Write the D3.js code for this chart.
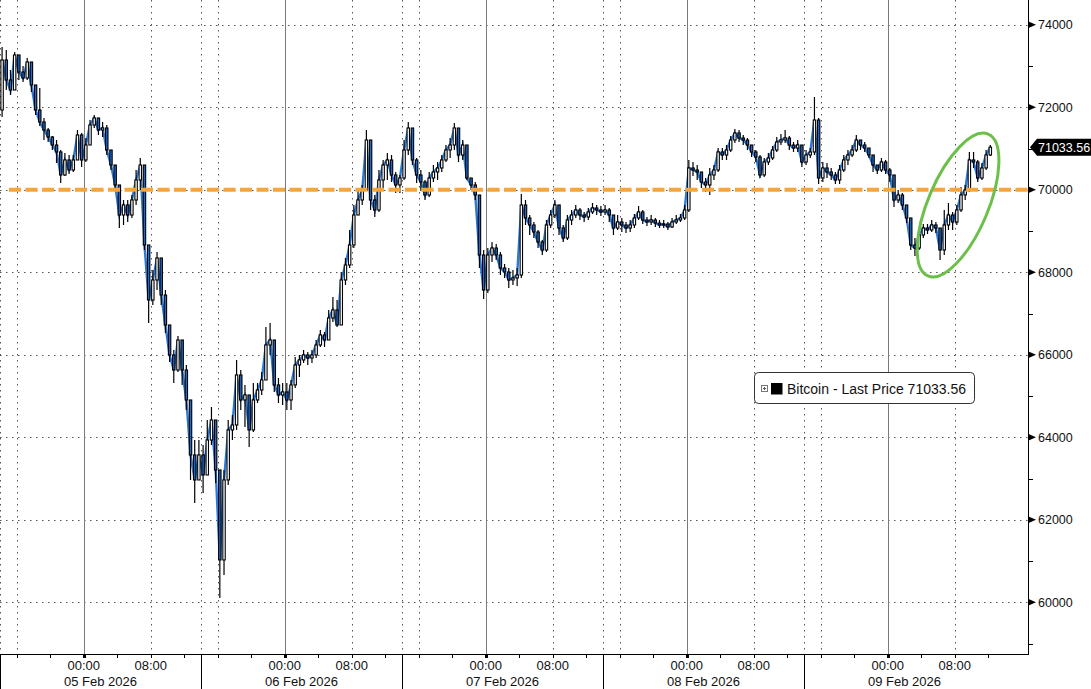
<!DOCTYPE html>
<html><head><meta charset="utf-8">
<script src="https://cdn.jsdelivr.net/npm/d3@7"></script>
<style>body{margin:0;background:#fff}svg{display:block}</style>
</head><body>
<svg id="c" width="1091" height="689"></svg>
<script>
// ---------------- data ----------------
const seriesName = "Bitcoin - Last Price";
const lastPrice = 71033.56;
const refLevel = 70000;
const barStart = Date.UTC(2026, 1, 4, 14, 0);   // first 30-min bar
const barMinutes = 30;
const firstOpen = 71935;
const closes = [
73147,72662,72419,73268,72856,72710,73098,72541,71935,71644,
71450,71280,71086,70917,70359,70723,70480,70723,71329,70723,
71086,71571,71741,71450,71498,70965,70601,70117,69389,69632,
69389,69753,70238,70601,68662,67329,67814,68347,67450,66723,
65996,65632,66359,65632,64905,63572,62966,63572,63087,63935,
64420,63208,61027,62966,64178,64299,65511,64905,65026,64178,
64905,65147,65390,66238,66359,65269,65026,65099,64905,65269,
65753,65875,65996,65923,65996,66238,66481,66359,66893,67087,
66723,67814,68177,68662,69389,69753,69995,71207,69753,69511,
70238,70601,70723,70359,70117,70286,70965,71498,70723,70359,
70189,69874,70286,70432,70529,70723,70965,71086,71498,70844,
71086,70286,70117,69874,68420,67571,68420,68589,68420,68105,
68008,67814,67862,67935,69632,69317,69147,68977,68735,68541,
69147,69389,69632,69074,68832,69268,69389,69511,69389,69341,
69462,69559,69511,69462,69511,69389,69074,69220,69147,69074,
69147,69317,69462,69268,69220,69268,69195,69147,69171,69099,
69220,69268,69317,69511,70529,70480,70432,70189,70117,70359,
70480,70917,70844,70965,71207,71377,71256,71207,71086,70917,
70795,70359,70674,70771,70965,71159,71207,71256,71086,71013,
71086,70674,70844,70917,71692,70286,70529,70432,70359,70238,
70480,70723,70844,70965,71207,71086,71013,70844,70601,70480,
70674,70480,70359,69753,69874,69632,69317,68662,68589,68905,
69074,69026,69147,69074,68541,69147,69389,69220,69511,69874,
69995,70723,70674,70286,70529,70844,71033.56];
const highs = [
73462,73389,72904,73341,73098,73001,73195,73098,72298,72468,
71741,71498,71304,71207,70965,70892,70844,70844,71450,71377,
71256,71692,71813,71692,71644,71571,70965,70601,70117,69753,
69753,69874,70480,70771,70601,68662,68056,68493,68347,67571,
66723,66117,66456,66359,65753,64905,63935,63935,63814,64420,
64735,64420,63208,63208,64420,64541,65875,65632,65269,65026,
65317,65317,65584,66675,66771,66359,65438,65317,65317,65390,
65947,65996,66117,66069,66117,66359,66602,66553,67087,67402,
67329,68008,68347,69026,69632,69995,70117,71450,71207,69874,
70480,70723,70892,70844,70432,70359,71207,71644,71498,70771,
70480,70238,70432,70601,70674,70844,71086,71256,71619,71498,
71207,71086,70286,70189,69874,68541,68589,68735,68686,68493,
68202,68105,68056,68105,69898,69753,69389,69220,69026,68783,
69268,69511,69753,69632,69147,69389,69511,69632,69559,69462,
69559,69680,69632,69608,69632,69559,69389,69389,69317,69220,
69268,69414,69608,69511,69341,69389,69317,69268,69268,69220,
69317,69389,69414,69632,70723,70674,70601,70432,70286,70529,
70601,71013,71013,71086,71304,71474,71450,71329,71256,71086,
70965,70844,70771,70892,71062,71280,71353,71450,71304,71159,
71207,71086,70965,71013,72250,71741,70674,70650,70529,70432,
70601,70844,70965,71086,71329,71207,71159,71013,70844,70601,
70771,70723,70529,70359,69995,69923,69632,69317,68832,69026,
69171,69171,69268,69220,69074,69511,69680,69462,69632,70068,
70117,70917,70917,70723,70650,70965,71086];
const lows = [
71765,72419,72298,72541,72662,72613,72662,72371,71813,71547,
71207,71159,70965,70650,70165,70335,70383,70432,70723,70553,
70674,71086,71498,71329,71280,70844,70480,69995,69074,69147,
69220,69317,69632,69995,68541,66771,67208,67571,67208,66529,
65826,65317,65584,65269,64663,62966,62408,63087,62651,63208,
63814,62893,60105,60663,62845,63935,64178,64663,64251,63766,
64129,64832,65026,65390,65996,65099,64832,64784,64663,64663,
65196,65463,65802,65753,65802,65923,66190,66190,66359,66796,
66675,66723,67693,68105,68589,69389,69632,69995,69511,69341,
69462,70044,70238,70189,69923,69923,70238,70844,70601,70165,
69995,69753,69826,70189,70238,70432,70674,70771,70965,70674,
70723,70238,69995,69753,68105,67353,67499,68250,68299,67935,
67862,67620,67693,67668,67862,69147,68905,68832,68589,68420,
68493,69074,69317,68905,68735,68783,69147,69317,69268,69220,
69268,69414,69389,69365,69389,69220,68905,69026,68977,68953,
68977,69074,69268,69171,69123,69147,69099,69074,69074,69026,
69074,69171,69220,69268,69462,70335,70238,70044,69947,69874,
70238,70432,70723,70723,70917,71135,71159,71086,70965,70795,
70674,70286,70311,70601,70723,70917,71086,71135,70965,70917,
70917,70553,70601,70771,70844,70141,70189,70286,70238,70141,
70141,70432,70601,70795,70917,70965,70917,70771,70432,70383,
70432,70383,70189,69583,69680,69511,69195,68541,68396,68541,
68832,68929,68977,68953,68299,68420,69026,69026,69147,69462,
69753,69947,70529,70189,70238,70480,70820];
const yTicks = [60000,62000,64000,66000,68000,70000,72000,74000];
const yMinorTicks = [59000,61000,63000,65000,67000,69000,71000,73000];
const dayLabels = ["05 Feb 2026","06 Feb 2026","07 Feb 2026","08 Feb 2026","09 Feb 2026"];
const timeLabels = ["00:00","08:00"];
// annotation ellipse centre (time, price)
const ringCentre = {t: Date.UTC(2026,1,9,8,24), v: 69630};

// ---------------- layout ----------------
const W = 1091, H = 689;
const plotR = 1028, plotB = 654;
const svg = d3.select("#c");
const x = d3.scaleUtc()
  .domain([Date.UTC(2026,1,4,14,0), Date.UTC(2026,1,9,16,45)])
  .range([0, plotR]);
const y = d3.scaleLinear().domain([58747, 74601]).range([plotB, 0]);

const bars = closes.map((c, i) => ({
  t: new Date(barStart + i*barMinutes*60000),
  o: i === 0 ? firstOpen : closes[i-1],
  h: highs[i], l: lows[i], c
}));
const mid = d => new Date(+d.t + barMinutes*30000);

const gridEnd = Date.UTC(2026,1,9,12,0);
const hours = d3.utcHour.range(Date.UTC(2026,1,4,14,0), gridEnd + 1);
const midnights = hours.filter(d => d.getUTCHours() === 0);
const dotted = hours.filter(d => [8,14,16].includes(d.getUTCHours()));
const seps = hours.filter(d => d.getUTCHours() === 14);
const fourH = hours.filter(d => d.getUTCHours() % 4 === 0);

const g = svg.append("g");
// horizontal grid
g.selectAll(".hg").data(yTicks).join("line")
  .attr("x1", 0).attr("x2", plotR)
  .attr("y1", d => Math.round(y(d))+0.5).attr("y2", d => Math.round(y(d))+0.5)
  .attr("stroke", "#555").attr("stroke-dasharray", "1.5,4.5");
// vertical dotted grid
g.selectAll(".vd").data(dotted).join("line")
  .attr("x1", d => Math.round(x(d))+0.5).attr("x2", d => Math.round(x(d))+0.5)
  .attr("y1", 0).attr("y2", plotB)
  .attr("stroke", "#555").attr("stroke-dasharray", "1.5,4.5");
// vertical solid at midnight
g.selectAll(".vs").data(midnights).join("line")
  .attr("x1", d => Math.round(x(d))+0.5).attr("x2", d => Math.round(x(d))+0.5)
  .attr("y1", 0).attr("y2", plotB)
  .attr("stroke", "#7a7a7a").attr("stroke-width", 1);

// close line
g.append("path").datum(bars)
  .attr("d", d3.line().x(d => x(mid(d))).y(d => y(d.c)))
  .attr("fill", "none").attr("stroke", "#2a7ad8").attr("stroke-width", 2.4);

// candles
const cg = g.append("g");
const bw = 2.4;
cg.selectAll(".wk").data(bars).join("line")
  .attr("x1", d => x(mid(d))).attr("x2", d => x(mid(d)))
  .attr("y1", d => y(Math.max(d.h, d.o, d.c))).attr("y2", d => y(Math.min(d.l, d.o, d.c)))
  .attr("stroke", "#000").attr("stroke-width", 1.2);
cg.selectAll(".bd").data(bars).join("rect")
  .attr("x", d => x(mid(d)) - bw/2)
  .attr("y", d => y(Math.max(d.o, d.c)))
  .attr("width", bw)
  .attr("height", d => Math.max(1, Math.abs(y(d.o) - y(d.c))))
  .attr("fill", d => d.c >= d.o ? "#ffffff" : "#2468c8")
  .attr("stroke", "#000").attr("stroke-width", 1.1);

// reference level
g.append("line")
  .attr("x1", 9).attr("x2", plotR)
  .attr("y1", y(refLevel)).attr("y2", y(refLevel))
  .attr("stroke", "#f5a53a").attr("stroke-width", 4)
  .attr("stroke-dasharray", "12,4.5");

// annotation ring
g.append("ellipse")
  .attr("cx", 0).attr("cy", 0).attr("rx", 30).attr("ry", 77)
  .attr("transform", `translate(${x(ringCentre.t)},${y(ringCentre.v)}) rotate(23)`)
  .attr("fill", "none").attr("stroke", "#6cc04a").attr("stroke-width", 3);

// ---------------- axes ----------------
const ax = svg.append("g").attr("font-family", "'Liberation Sans', Arial, sans-serif");
// right axis line
ax.append("line").attr("x1", plotR+0.5).attr("x2", plotR+0.5).attr("y1", 0).attr("y2", plotB+1)
  .attr("stroke", "#000");
ax.selectAll(".tri").data(yTicks).join("path")
  .attr("d", d => `M${plotR},${y(d)-3.5}L${plotR+8},${y(d)}L${plotR},${y(d)+3.5}Z`)
  .attr("fill", "#000");
ax.selectAll(".mt").data(yMinorTicks).join("line")
  .attr("x1", plotR).attr("x2", plotR+5)
  .attr("y1", d => Math.round(y(d))+0.5).attr("y2", d => Math.round(y(d))+0.5)
  .attr("stroke", "#000");
ax.selectAll(".yl").data(yTicks).join("text")
  .attr("x", plotR+10).attr("y", d => y(d)).attr("dy", "0.36em")
  .attr("font-size", 12.5).attr("fill", "#111").text(d => d);

// bottom axis
ax.append("line").attr("x1", 0).attr("x2", plotR+1).attr("y1", plotB+0.5).attr("y2", plotB+0.5)
  .attr("stroke", "#000");
ax.selectAll(".bt").data(fourH).join("line")
  .attr("x1", d => Math.round(x(d))+0.5).attr("x2", d => Math.round(x(d))+0.5)
  .attr("y1", plotB).attr("y2", plotB+4).attr("stroke", "#000");
ax.selectAll(".bm").data(midnights).join("rect")
  .attr("x", d => Math.round(x(d))-1).attr("y", plotB).attr("width", 3).attr("height", 4)
  .attr("fill", "#000");
ax.selectAll(".sp").data(seps).join("line")
  .attr("x1", d => Math.max(0.5, Math.round(x(d))+0.5)).attr("x2", d => Math.max(0.5, Math.round(x(d))+0.5))
  .attr("y1", plotB).attr("y2", H).attr("stroke", "#000");
const labTimes = hours.filter(d => d.getUTCHours() === 0 || d.getUTCHours() === 8);
ax.selectAll(".tl").data(labTimes).join("text")
  .attr("x", d => x(d)).attr("y", 670).attr("text-anchor", "middle")
  .attr("font-size", 13).attr("fill", "#111")
  .text(d => timeLabels[d.getUTCHours() === 0 ? 0 : 1]);
ax.selectAll(".dl").data(midnights).join("text")
  .attr("x", d => x(new Date(+d + 2*3600000))).attr("y", 686).attr("text-anchor", "middle")
  .attr("font-size", 13).attr("fill", "#111")
  .text((d, i) => dayLabels[i]);

// last price tag
const ly = y(lastPrice);
ax.append("path")
  .attr("d", `M${plotR+2},${ly}L${plotR+9},${ly-8.5}L${W},${ly-8.5}L${W},${ly+8.5}L${plotR+9},${ly+8.5}Z`)
  .attr("fill", "#000");
ax.append("text").attr("x", plotR+10).attr("y", ly).attr("dy", "0.36em")
  .attr("font-size", 12.5).attr("fill", "#fff").text(lastPrice.toFixed(2));

// legend
const lg = svg.append("g").attr("font-family", "'Liberation Sans', Arial, sans-serif");
lg.append("rect").attr("x", 754.5).attr("y", 372.5).attr("width", 220).attr("height", 31).attr("rx", 4)
  .attr("fill", "#fff").attr("stroke", "#333");
lg.append("rect").attr("x", 761.5).attr("y", 385.5).attr("width", 6).attr("height", 6)
  .attr("fill", "none").attr("stroke", "#777");
lg.append("path").attr("d", "M763,388.5H766M764.5,387V390").attr("stroke", "#555");
lg.append("rect").attr("x", 771).attr("y", 383).attr("width", 11.5).attr("height", 11.5).attr("fill", "#000");
lg.append("text").attr("x", 787).attr("y", 394).attr("font-size", 14).attr("fill", "#111")
  .text(`${seriesName} ${lastPrice.toFixed(2)}`);
</script>
</body></html>
